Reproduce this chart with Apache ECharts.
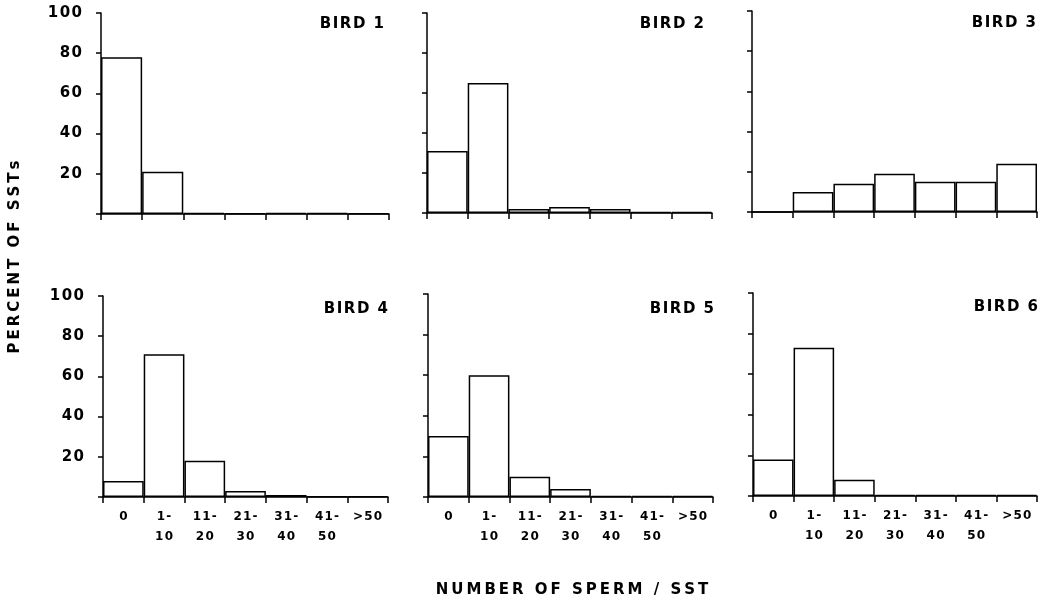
<!DOCTYPE html>
<html>
<head>
<meta charset="utf-8">
<script src="https://cdn.jsdelivr.net/npm/echarts@6/dist/echarts.min.js"></script>
<style>
html,body{margin:0;padding:0;background:#fff;}
#chart{width:1052px;height:601px;}
</style>
</head>
<body>
<div id="chart"></div>
<script>
const categories = ['0', '1-\n10', '11-\n20', '21-\n30', '31-\n40', '41-\n50', '>50'];
const bird1 = [78, 21, 0.5, 0.3, 0.5, 0.5, 0.3];
const bird2 = [31, 65, 2, 3, 2, 0.5, 0.5];
const bird3 = [0, 10, 14, 19, 15, 15, 24];
const bird4 = [8, 71, 18, 3, 1, 0.3, 0.3];
const bird5 = [30, 60, 10, 4, 0.5, 0.5, 0.5];
const bird6 = [18, 73, 8, 0.5, 0.5, 0.5, 0.5];
const birdNames = ['BIRD 1', 'BIRD 2', 'BIRD 3', 'BIRD 4', 'BIRD 5', 'BIRD 6'];
const yMin = 0, yMax = 100, yStep = 20;
const yTitle = 'PERCENT OF SSTs';
const xTitle = 'NUMBER OF SPERM / SST';

const allBirds = [bird1, bird2, bird3, bird4, bird5, bird6];
const FONT = '"DejaVu Sans", "Liberation Sans", Arial, sans-serif';
// letter-spaced rendering of typewriter-like figure lettering
const spaced = (s, sp) => s.split('\n').map(l => l.split('').join(sp)).join('\n');
const HAIR = '\u200A', THIN = '\u2009';

const panels = [
  {left: 101, top: 13, width: 288, height: 201, titleX: 384, titleY: 24},
  {left: 427, top: 13, width: 285, height: 200, titleX: 704, titleY: 24},
  {left: 752, top: 11, width: 285, height: 201, titleX: 1036, titleY: 23},
  {left: 103, top: 296, width: 285, height: 201, titleX: 388, titleY: 309},
  {left: 428, top: 294, width: 285, height: 203, titleX: 714, titleY: 309},
  {left: 753, top: 293, width: 284, height: 203, titleX: 1038, titleY: 307}
];

const grid = [], xAxis = [], yAxis = [], series = [], graphic = [];
panels.forEach((p, i) => {
  grid.push({left: p.left, top: p.top, width: p.width, height: p.height});
  const bottomRow = i >= 3;
  const leftCol = i % 3 === 0;
  xAxis.push({
    type: 'category', gridIndex: i, data: categories,
    boundaryGap: true,
    axisLine: {show: true, lineStyle: {color: '#000', width: 1.5}},
    axisTick: {show: true, length: 6, lineStyle: {color: '#000', width: 1.5}},
    axisLabel: {
      show: bottomRow, color: '#000', fontFamily: FONT, fontWeight: 'bold',
      fontSize: 12, lineHeight: 20, margin: 10, interval: 0,
      formatter: v => spaced(v, HAIR)
    },
    splitLine: {show: false}
  });
  yAxis.push({
    type: 'value', gridIndex: i, min: yMin, max: yMax, interval: yStep,
    axisLine: {show: true, lineStyle: {color: '#000', width: 1.5}},
    axisTick: {show: true, length: 5, lineStyle: {color: '#000', width: 1.5}},
    axisLabel: {
      show: leftCol, color: '#000', fontFamily: FONT, fontWeight: 'bold',
      fontSize: 15, margin: 19,
      formatter: v => (v === 0 ? '' : spaced(String(v), HAIR))
    },
    splitLine: {show: false}
  });
  series.push({
    type: 'bar', xAxisIndex: i, yAxisIndex: i, data: allBirds[i],
    barCategoryGap: '0%',
    itemStyle: {color: '#fff', borderColor: '#000', borderWidth: 1.5},
    silent: true, animation: false
  });
  graphic.push({
    type: 'text', x: p.titleX, y: p.titleY,
    style: {
      text: spaced(birdNames[i], HAIR), fill: '#000', font: 'bold 15px ' + FONT,
      textAlign: 'right', textVerticalAlign: 'middle'
    }
  });
});

graphic.push({
  type: 'text', x: 15, y: 257, rotation: Math.PI / 2,
  style: {
    text: spaced(yTitle, THIN), fill: '#000', font: 'bold 15px ' + FONT,
    textAlign: 'center', textVerticalAlign: 'middle'
  }
});
graphic.push({
  type: 'text', x: 572, y: 590,
  style: {
    text: spaced(xTitle, THIN), fill: '#000', font: 'bold 15px ' + FONT,
    textAlign: 'center', textVerticalAlign: 'middle'
  }
});

const chart = echarts.init(document.getElementById('chart'), null, {renderer: 'canvas'});
chart.setOption({
  backgroundColor: '#fff',
  animation: false,
  grid, xAxis, yAxis, series, graphic
});
</script>
</body>
</html>
